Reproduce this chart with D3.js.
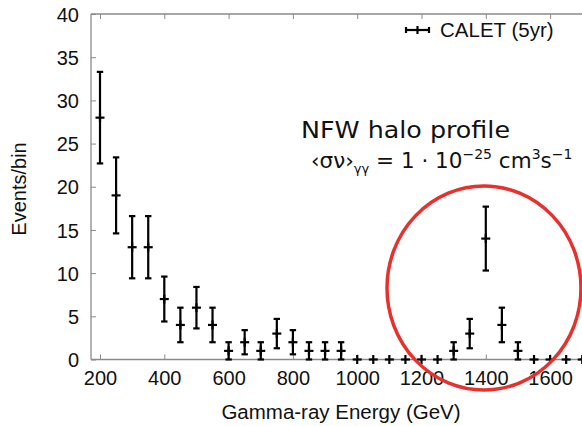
<!DOCTYPE html>
<html><head><meta charset="utf-8">
<script src="https://cdn.jsdelivr.net/npm/d3@7"></script>
<style>body{margin:0;background:#fff}svg{display:block}</style>
</head><body>
<script>
const energies = [200,250,300,350,400,450,500,550,600,650,700,750,800,850,900,950,1000,1050,1100,1150,1200,1250,1300,1350,1400,1450,1500,1550,1600,1650,1700];
const events   = [28,19,13,13,7,4,6,4,1,2,1,3,2,1,1,1,0,0,0,0,0,0,1,3,14,4,1,0,0,0,0];
const errors   = [5.3,4.4,3.6,3.6,2.6,2,2.4,2,1,1.4,1,1.7,1.4,1,1,1,0,0,0,0,0,0,1,1.7,3.7,2,1,0,0,0,0];
const xTicks = [200,400,600,800,1000,1200,1400,1600,1800];
const yTicks = [0,5,10,15,20,25,30,35,40];

const W = 582, H = 426;
const svg = d3.select("body").append("svg").attr("width", W).attr("height", H);
const x = d3.scaleLinear().domain([172, 1800]).range([91, 614.4]);
const y = d3.scaleLinear().domain([0, 40]).range([359.5, 14]);
const font = "'Liberation Sans', Arial, Helvetica, sans-serif";
const axisCol = "#8a8a8a";

// border lines
const g = svg.append("g");
g.append("line").attr("x1", 91).attr("x2", 620).attr("y1", y(40)).attr("y2", y(40)).attr("stroke", axisCol).attr("stroke-width", 1.3);
g.append("line").attr("x1", 91).attr("x2", 620).attr("y1", y(0)).attr("y2", y(0)).attr("stroke", axisCol).attr("stroke-width", 1.3);
g.append("line").attr("x1", 91).attr("x2", 91).attr("y1", y(0)).attr("y2", y(40)).attr("stroke", axisCol).attr("stroke-width", 1.3);

// axes with inward ticks
const xb = svg.append("g").attr("transform", `translate(0,${y(0)})`)
  .call(d3.axisBottom(x).tickValues(xTicks).tickSizeInner(-5).tickSizeOuter(0).tickPadding(11).tickFormat(d3.format("d")));
const xt = svg.append("g").attr("transform", `translate(0,${y(40)})`)
  .call(d3.axisTop(x).tickValues(xTicks).tickSizeInner(-5).tickSizeOuter(0).tickFormat(""));
const yl = svg.append("g").attr("transform", `translate(91,0)`)
  .call(d3.axisLeft(y).tickValues(yTicks).tickSizeInner(-5).tickSizeOuter(0).tickPadding(12));
[xb, xt, yl].forEach(a => {
  a.select(".domain").remove();
  a.selectAll(".tick line").attr("stroke", axisCol).attr("stroke-width", 1);
  a.selectAll("text").attr("font-family", font).attr("font-size", 20).attr("fill", "#111");
});
xb.selectAll(".tick").filter(d => d === 1800).remove();
yl.selectAll("text").attr("dy", "0.36em");

// axis titles
svg.append("text").attr("x", 341).attr("y", 419).attr("text-anchor", "middle")
  .attr("font-family", font).attr("font-size", 20.5).attr("fill", "#111").text("Gamma-ray Energy (GeV)");
svg.append("text").attr("transform", "translate(26,189) rotate(-90)").attr("text-anchor", "middle")
  .attr("font-family", font).attr("font-size", 20).attr("fill", "#111").text("Events/bin");

// data error bars
const data = energies.map((e, i) => ({e, v: events[i], err: errors[i]}));
const pts = svg.append("g").attr("stroke", "#000").attr("stroke-width", 2.2);
const cap = 3.2, mk = 4.5;
data.forEach(d => {
  const cx = x(d.e);
  const lo = y(Math.max(0, d.v - d.err)), hi = y(d.v + d.err), cy = y(d.v);
  if (d.err > 0) {
    pts.append("line").attr("x1", cx).attr("x2", cx).attr("y1", lo).attr("y2", hi);
    pts.append("line").attr("x1", cx - cap).attr("x2", cx + cap).attr("y1", lo).attr("y2", lo);
    pts.append("line").attr("x1", cx - cap).attr("x2", cx + cap).attr("y1", hi).attr("y2", hi);
  }
  pts.append("line").attr("x1", cx - mk).attr("x2", cx + mk).attr("y1", cy).attr("y2", cy);
  pts.append("line").attr("x1", cx).attr("x2", cx).attr("y1", cy - mk).attr("y2", cy + mk);
});

// legend
const lg = svg.append("g").attr("stroke", "#000").attr("stroke-width", 2.2);
lg.append("line").attr("x1", 406).attr("x2", 429).attr("y1", 30).attr("y2", 30);
lg.append("line").attr("x1", 406).attr("x2", 406).attr("y1", 27).attr("y2", 33);
lg.append("line").attr("x1", 429).attr("x2", 429).attr("y1", 27).attr("y2", 33);
lg.append("line").attr("x1", 417.5).attr("x2", 417.5).attr("y1", 26).attr("y2", 34);
svg.append("text").attr("x", 440).attr("y", 37).attr("font-family", font).attr("font-size", 20.5)
  .attr("fill", "#111").text("CALET (5yr)");

// annotation
const af = "'Comic Sans MS', 'DejaVu Sans', sans-serif";
svg.append("text").attr("x", 301).attr("y", 138).attr("font-family", af).attr("font-size", 23)
  .attr("fill", "#111").attr("textLength", 209).attr("lengthAdjust", "spacingAndGlyphs").text("NFW halo profile");
const t2 = svg.append("text").attr("x", 311).attr("y", 168).attr("font-family", af).attr("font-size", 21.5).attr("fill", "#111");
t2.append("tspan").text("‹σν›");
t2.append("tspan").attr("font-size", 13).attr("dy", 5).text("γγ");
t2.append("tspan").attr("dy", -5).text(" = 1 · 10");
t2.append("tspan").attr("font-size", 14).attr("dy", -9).text("−25");
t2.append("tspan").attr("dy", 9).text(" cm");
t2.append("tspan").attr("font-size", 14).attr("dy", -9).text("3");
t2.append("tspan").attr("dy", 9).text("s");
t2.append("tspan").attr("font-size", 14).attr("dy", -9).text("−1");

// red circle
svg.append("ellipse").attr("cx", 484).attr("cy", 288).attr("rx", 97).attr("ry", 102)
  .attr("fill", "none").attr("stroke", "#e8302c").attr("stroke-width", 3.5);
</script>
</body></html>
